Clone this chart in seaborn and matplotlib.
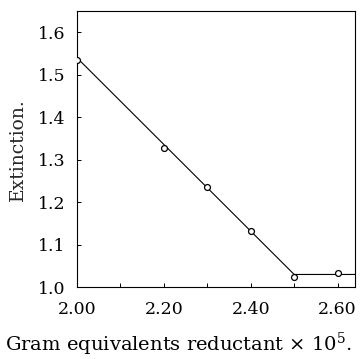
import numpy as np
import pandas as pd
import seaborn as sns
import matplotlib.pyplot as plt

# measured points
reductant = [2.00, 2.20, 2.30, 2.40, 2.50, 2.60]
extinction = [1.535, 1.328, 1.237, 1.132, 1.024, 1.034]

# drawn line (two straight segments)
line_x = [2.00, 2.50, 2.64]
line_y = [1.540, 1.030, 1.030]

x_ticks = [2.00, 2.20, 2.40, 2.60]
y_ticks = [1.0, 1.1, 1.2, 1.3, 1.4, 1.5, 1.6]

sns.set_style("ticks")
plt.rcParams['font.family'] = ['DejaVu Serif']
plt.rcParams['mathtext.fontset'] = 'dejavuserif'
plt.rcParams['text.color'] = 'black'
plt.rcParams['xtick.color'] = 'black'
plt.rcParams['ytick.color'] = 'black'

fig = plt.figure(figsize=(3.6, 3.59), dpi=100)
ax = fig.add_axes([0.214, 0.200, 0.772, 0.769])

pts = pd.DataFrame({'x': reductant, 'y': extinction})
fit = pd.DataFrame({'x': line_x, 'y': line_y})

sns.lineplot(data=fit, x='x', y='y', ax=ax, color='black', linewidth=0.8,
             sort=False, estimator=None)
sns.scatterplot(data=pts, x='x', y='y', ax=ax, marker='o', s=18,
                facecolor='white', edgecolor='black', linewidth=0.9, zorder=3)

ax.set_xlim(2.0, 2.64)
ax.set_ylim(1.0, 1.65)
ax.set_xticks(x_ticks)
ax.set_xticklabels(["{:.2f}".format(v) for v in x_ticks])
ax.set_xticks(np.arange(2.1, 2.6, 0.1), minor=True)
ax.set_yticks(y_ticks)
ax.set_yticklabels(["{:.1f}".format(v) for v in y_ticks])
ax.tick_params(axis='both', which='both', direction='in', length=3,
               width=0.7, labelsize=12.5)
ax.tick_params(axis='x', which='both', pad=10)
ax.tick_params(axis='y', which='both', pad=8)

for s in ax.spines.values():
    s.set_linewidth(0.8)
    s.set_color('black')
    s.set_visible(True)

ax.set_xlabel("")
ax.set_ylabel("Extinction.", fontsize=13.5, labelpad=8)
fig.text(0.497, 0.040, r"Gram equivalents reductant $\times$ 10$^5$.",
         fontsize=14, ha='center', va='center')

fig.savefig("out.png", dpi=100)
